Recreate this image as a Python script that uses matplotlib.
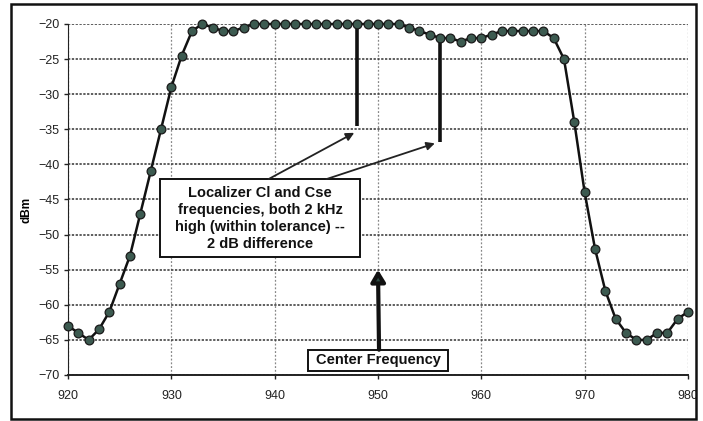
import numpy as np
import matplotlib
matplotlib.use('Agg')
import matplotlib.pyplot as plt
from matplotlib.patches import Rectangle

plt.rcParams['font.family'] = ['Liberation Sans', 'DejaVu Sans']

# spectrum data, one point per MHz
freq = np.arange(920, 981)
level = [-63, -64, -65, -63.5, -61, -57, -53, -47, -41, -35,
         -29, -24.5, -21, -20, -20.5, -21, -21, -20.5,
         -20, -20, -20, -20, -20, -20, -20, -20, -20, -20, -20, -20, -20, -20, -20,
         -20.5, -21, -21.5, -22, -22, -22.5, -22, -22, -21.5, -21,
         -21, -21, -21, -21, -22, -25, -34, -44, -52, -58,
         -62, -64, -65, -65, -64, -64, -62, -61]

# markers for the two localizer frequencies
loc_freq = [948, 956]
loc_top = [-20, -22]
loc_bottom = [-34.6, -36.8]

box_text = "Localizer Cl and Cse\nfrequencies, both 2 kHz\nhigh (within tolerance) --\n2 dB difference"
center_text = "Center Frequency"

fig = plt.figure(figsize=(7.03, 4.21), dpi=100)
ax = fig.add_axes([68 / 703, 1 - 375 / 421, 620 / 703, 351 / 421])

ax.set_xlim(920, 980)
ax.set_ylim(-70, -20)
ax.set_xticks(range(920, 981, 10))
ax.set_yticks(range(-70, -19, 5))
ax.tick_params(labelsize=9, length=3, width=1, colors='#222', pad=3)
ax.tick_params(axis='x', pad=8)

ax.yaxis.grid(True, color='#333', linestyle=(0, (1.5, 1)), linewidth=1.1)
ax.xaxis.grid(True, color='#888', linestyle=(0, (1.5, 1.5)), linewidth=0.9)
ax.set_axisbelow(True)
for s in ['top', 'right']:
    ax.spines[s].set_visible(False)
ax.spines['left'].set_color('#222')
ax.spines['bottom'].set_color('#222')
ax.spines['bottom'].set_linewidth(1.4)

ax.set_ylabel('dBm', fontsize=8.5, fontweight='bold', labelpad=4)
ax.yaxis.set_label_coords(-0.057, 0.47)

ax.plot(freq, level, color='#111', linewidth=1.8, marker='o', markersize=6.3,
        markerfacecolor='#3c5a50', markeredgecolor='#1a1a1a', markeredgewidth=0.9,
        zorder=4, clip_on=False)

ax.vlines(loc_freq, loc_bottom, loc_top, color='#111', linewidth=2.6, zorder=3)

# text box for the localizer note
ax.add_patch(Rectangle((928.9, -53.2), 19.4, 11.1, facecolor='white',
                       edgecolor='#111', linewidth=1.4, zorder=5))
ax.text(938.6, -47.7, box_text, ha='center', va='center', fontsize=10.5,
        fontweight='bold', linespacing=1.3, color='#111', zorder=6)

ax.annotate('', xy=(947.7, -35.5), xytext=(939.4, -42.1),
            arrowprops=dict(arrowstyle='-|>', color='#222', lw=1.3,
                            mutation_scale=12, shrinkA=0, shrinkB=0), zorder=6)
ax.annotate('', xy=(955.5, -37), xytext=(945, -42.1),
            arrowprops=dict(arrowstyle='-|>', color='#222', lw=1.3,
                            mutation_scale=12, shrinkA=0, shrinkB=0), zorder=6)

# center frequency box and arrow
ax.add_patch(Rectangle((943.2, -69.4), 13.6, 3.0, facecolor='white',
                       edgecolor='#111', linewidth=1.4, zorder=5))
ax.text(950, -67.9, center_text, ha='center', va='center', fontsize=10.5,
        fontweight='bold', color='#111', zorder=6)
ax.annotate('', xy=(950, -55), xytext=(950.1, -66.4),
            arrowprops=dict(arrowstyle='-|>,head_length=0.5,head_width=0.3',
                            facecolor='#2c4a42', edgecolor='#111', lw=3,
                            mutation_scale=14, shrinkA=0, shrinkB=0), zorder=6)

# outer frame
fig.add_artist(Rectangle((697 / 703, 0), 6 / 703, 1, transform=fig.transFigure,
                         facecolor='white', edgecolor='none', zorder=9))
fig.add_artist(Rectangle((11 / 703, 2 / 421), 685 / 703, 415 / 421,
                         transform=fig.transFigure, facecolor='none',
                         edgecolor='#111', linewidth=1.8, zorder=10))

fig.savefig('out.png', dpi=100)
